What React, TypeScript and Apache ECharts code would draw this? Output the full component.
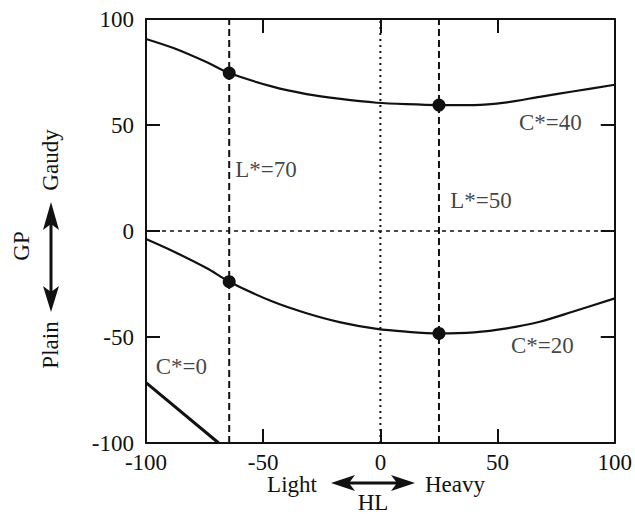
import React, { useEffect, useRef } from "react";
import * as echarts from "echarts";

// C*=40 curve (HL, GP)
const c40X = [-100, -88, -74, -64.5, -46, -31.5, -17, -1.5, 11, 25, 40, 54, 68, 82, 100];
const c40Y = [90.6, 86.2, 79.6, 74.5, 68.1, 64.6, 62.3, 60.5, 59.8, 59.4, 59.4, 60.7, 63.3, 65.8, 69];
// C*=20 curve
const c20X = [-100, -88, -74, -64.5, -46, -31.5, -17, -1.5, 11, 25, 40, 54, 68, 82, 100];
const c20Y = [-3.8, -9.8, -17.6, -23.9, -33.3, -38.8, -43.1, -46.2, -47.5, -48.3, -47.8, -45.9, -42.8, -38.1, -31.8];
// C*=0 line
const c0X = [-100, -69];
const c0Y = [-71.5, -100];
// marked points
const dotX = [-64.5, 25, -64.5, 25];
const dotY = [74.5, 59.4, -23.9, -48.3];
// reference lines
const lightnessX = [-64.5, 25];
const zeroLine = 0;
// annotation labels
const annoText = ["C*=40", "L*=70", "L*=50", "C*=20", "C*=0"];
const annoX = [72.5, -48.8, 42.9, 69.1, -84.9];
const annoY = [51.1, 29.2, 14.6, -53.8, -64.0];
// axis range
const axisMin = -100;
const axisMax = 100;
const axisStep = 50;

const FONT = "'Liberation Serif', 'Times New Roman', serif";
const INK = "#111";
const FS = 23;

export default function App() {
  const ref = useRef<HTMLDivElement>(null);
  useEffect(() => {
    document.body.style.margin = "0";
    const chart = echarts.init(ref.current!, null, { renderer: "svg" });
    const zip = (xs: number[], ys: number[]) => xs.map((x, i) => [x, ys[i]]);
    const baseAxis = {
      type: "value" as const,
      min: axisMin,
      max: axisMax,
      interval: axisStep,
      axisLine: { show: true, onZero: false, lineStyle: { color: INK, width: 2 } },
      axisTick: { show: true, inside: true, length: 14, lineStyle: { color: INK, width: 2 } },
      splitLine: { show: false },
    };
    const labelStyle = { color: INK, fontFamily: FONT, fontSize: FS };
    chart.setOption({
      animation: false,
      backgroundColor: "#fff",
      grid: { left: 146, top: 19, width: 469, height: 424 },
      xAxis: [
        { ...baseAxis, position: "bottom", axisLabel: { ...labelStyle, margin: 8 } },
        { ...baseAxis, position: "top", axisLabel: { show: false } },
      ],
      yAxis: [
        { ...baseAxis, position: "left", axisLabel: { ...labelStyle, margin: 12 } },
        { ...baseAxis, position: "right", axisLabel: { show: false } },
      ],
      series: [
        ...lightnessX.map((x) => ({
          type: "line",
          data: [[x, axisMin], [x, axisMax]],
          symbol: "none",
          lineStyle: { color: INK, width: 2, type: [7, 4] },
          z: 1,
        })),
        {
          type: "line",
          data: [[zeroLine, axisMin], [zeroLine, axisMax]],
          symbol: "none",
          lineStyle: { color: INK, width: 2, type: [2, 4] },
          z: 1,
        },
        {
          type: "line",
          data: [[axisMin, zeroLine], [axisMax, zeroLine]],
          symbol: "none",
          lineStyle: { color: INK, width: 1.6, type: [4, 4] },
          z: 1,
        },
        {
          type: "line",
          data: zip(c40X, c40Y),
          smooth: 0.3,
          symbol: "none",
          lineStyle: { color: INK, width: 2.2 },
          z: 2,
        },
        {
          type: "line",
          data: zip(c20X, c20Y),
          smooth: 0.3,
          symbol: "none",
          lineStyle: { color: INK, width: 2.2 },
          z: 2,
        },
        {
          type: "line",
          data: zip(c0X, c0Y),
          symbol: "none",
          lineStyle: { color: INK, width: 3 },
          z: 2,
        },
        {
          type: "scatter",
          data: zip(dotX, dotY),
          symbol: "circle",
          symbolSize: 13,
          itemStyle: { color: INK, opacity: 1 },
          z: 3,
        },
        {
          type: "scatter",
          data: annoText.map((t, i) => ({ name: t, value: [annoX[i], annoY[i]] })),
          symbolSize: 0,
          label: {
            show: true,
            position: "inside",
            formatter: (p: any) => p.name,
            color: INK,
            fontFamily: FONT,
            fontSize: FS,
          },
          z: 4,
        },
      ],
      graphic: [
        // y-axis name
        { type: "text", x: 21, y: 246, rotation: Math.PI / 2, style: { text: "GP", font: `${FS}px ${FONT}`, fill: INK, align: "center", verticalAlign: "middle" } },
        { type: "text", x: 50, y: 160, rotation: Math.PI / 2, style: { text: "Gaudy", font: `${FS}px ${FONT}`, fill: INK, align: "center", verticalAlign: "middle" } },
        { type: "text", x: 50, y: 345, rotation: Math.PI / 2, style: { text: "Plain", font: `${FS}px ${FONT}`, fill: INK, align: "center", verticalAlign: "middle" } },
        { type: "line", shape: { x1: 51, y1: 222, x2: 51, y2: 292 }, style: { stroke: INK, lineWidth: 3 } },
        { type: "polygon", shape: { points: [[51, 202], [43, 230], [51, 224], [59, 230]] }, style: { fill: INK } },
        { type: "polygon", shape: { points: [[51, 312], [43, 286], [51, 292], [59, 286]] }, style: { fill: INK } },
        // x-axis name
        { type: "text", x: 292, y: 484, style: { text: "Light", font: `${FS}px ${FONT}`, fill: INK, align: "center", verticalAlign: "middle" } },
        { type: "text", x: 455, y: 484, style: { text: "Heavy", font: `${FS}px ${FONT}`, fill: INK, align: "center", verticalAlign: "middle" } },
        { type: "text", x: 373, y: 502, style: { text: "HL", font: `${FS}px ${FONT}`, fill: INK, align: "center", verticalAlign: "middle" } },
        { type: "line", shape: { x1: 348, y1: 483, x2: 398, y2: 483 }, style: { stroke: INK, lineWidth: 3 } },
        { type: "polygon", shape: { points: [[331, 483], [355, 475], [349, 483], [355, 491]] }, style: { fill: INK } },
        { type: "polygon", shape: { points: [[415, 483], [391, 475], [397, 483], [391, 491]] }, style: { fill: INK } },
      ],
    });
    return () => chart.dispose();
  }, []);
  return <div ref={ref} style={{ width: 635, height: 514 }} />;
}
